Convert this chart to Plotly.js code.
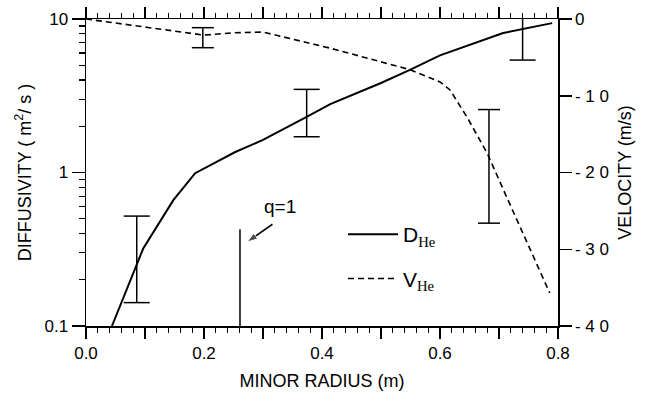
<!DOCTYPE html>
<html>
<head>
<meta charset="utf-8">
<script src="https://cdn.plot.ly/plotly-3.0.1.min.js"></script>
<style>html,body{margin:0;padding:0;background:#fff;}#chart{width:658px;height:400px;}</style>
</head>
<body>
<div id="chart"></div>
<script>
// ---- data ----
const rD   = [0.044, 0.097, 0.148, 0.185, 0.253, 0.300, 0.374, 0.414, 0.500, 0.549, 0.600, 0.707, 0.790];
const dHe  = [0.10, 0.32, 0.66, 0.99, 1.36, 1.63, 2.30, 2.79, 3.83, 4.66, 5.8, 8.1, 9.4];

const rV   = [0.0, 0.097, 0.171, 0.200, 0.250, 0.300, 0.414, 0.549, 0.600, 0.617, 0.646, 0.680, 0.713, 0.786];
const vHe  = [0, -1.0, -1.8, -2.1, -1.8, -1.7, -3.8, -6.6, -8.2, -9.25, -12.8, -17.5, -23.2, -35.7];

// error bars on D (bar ends)
const rDerr  = [0.086, 0.374, 0.740];
const dErrHi = [0.52, 3.48, 13.6];
const dErrLo = [0.142, 1.71, 5.4];
// error bars on V (bar ends)
const rVerr  = [0.198, 0.683];
const vErrHi = [-1.13, -11.8];
const vErrLo = [-3.74, -26.6];

// q=1 marker line, its label and arrow
const qR = [0.261, 0.261];
const qD = [0.1, 0.427];
const qLabel = {r: 0.329, d: 0.587};
const qArrowR = [0.316, 0.273];
const qArrowD = [0.46, 0.352];

const xMidTicks = [0.1, 0.3, 0.5, 0.7];
const y2Ticks = [0, -10, -20, -30, -40];
const y2TickText = ['0', '- 1 0', '- 2 0', '- 3 0', '- 4 0'];

// ---- layout helpers ----
const L = 86, R = 558, T = 19, B = 326;
const px = p => (p - L) / (R - L);
const py = p => (B - p) / (B - T);
const FONT = 'Liberation Sans, Arial, Helvetica, sans-serif';
const K = 'black';
const sub = s => '<sub><span style="font-family:Liberation Serif">' + s + '</span></sub>';

function errorPath(xs, his, los, capHalf) {
  const X = [], Y = [];
  xs.forEach((x, i) => {
    X.push(x - capHalf, x + capHalf, null, x, x, null, x - capHalf, x + capHalf, null);
    Y.push(his[i], his[i], null, his[i], los[i], null, los[i], los[i], null);
  });
  return {X, Y};
}
const capD = 13 / (R - L) * 0.8;
const capV = 11 / (R - L) * 0.8;
const eD = errorPath(rDerr, dErrHi, dErrLo, capD);
const eV = errorPath(rVerr, vErrHi, vErrLo, capV);

const traces = [
  {x: rD, y: dHe, mode: 'lines', line: {color: K, width: 2}, yaxis: 'y',
   name: 'D' + sub('He'), showlegend: true, legendgroup: 'd'},
  {x: rV, y: vHe, mode: 'lines', line: {color: K, width: 1.6, dash: '6px,4px'}, yaxis: 'y2',
   name: 'V' + sub('He'), showlegend: true, legendgroup: 'v'},
  {x: eD.X, y: eD.Y, mode: 'lines', line: {color: K, width: 1.5}, yaxis: 'y', showlegend: false},
  {x: eV.X, y: eV.Y, mode: 'lines', line: {color: K, width: 1.5}, yaxis: 'y2', showlegend: false},
  {x: qR, y: qD, mode: 'lines', line: {color: K, width: 1.5}, yaxis: 'y', showlegend: false},
  {x: [qLabel.r], y: [qLabel.d], mode: 'text', text: ['q=1'], textfont: {size: 19, color: K},
   textposition: 'middle center', yaxis: 'y', showlegend: false},
  {x: qArrowR, y: qArrowD, mode: 'lines+markers', line: {color: K, width: 1.6}, yaxis: 'y', showlegend: false,
   marker: {symbol: 'arrow', size: [0, 11], angleref: 'previous', color: K}},
  {x: [0.4], y: [1], xaxis: 'x2', yaxis: 'y', mode: 'markers', marker: {size: 1, opacity: 0}, showlegend: false}
];

const layout = {
  width: 658, height: 400,
  margin: {l: L, r: 658 - R, t: T, b: 400 - B},
  showlegend: true,
  legend: {x: px(343), y: py(214), xanchor: 'left', yanchor: 'top', bgcolor: 'rgba(0,0,0,0)',
           font: {size: 21, color: K}, tracegroupgap: 14, itemwidth: 50},
  font: {family: FONT, color: K, size: 17},
  xaxis: {
    range: [0, 0.8], showgrid: false, zeroline: false,
    showline: true, linecolor: K, linewidth: 1.5, mirror: 'ticks',
    ticks: 'outside', ticklen: 11, tickwidth: 1.5, tickcolor: K,
    tickmode: 'linear', tick0: 0, dtick: 0.2, tickformat: '.1f',
    minor: {dtick: 0.02, tick0: 0, ticks: 'outside', ticklen: 5, tickwidth: 1.2, tickcolor: K, showgrid: false},
    title: {text: 'MINOR RADIUS (m)', font: {size: 18}, standoff: 12}
  },
  xaxis2: {
    overlaying: 'x', anchor: 'y', range: [0, 0.8], showgrid: false, zeroline: false,
    showline: true, linecolor: K, linewidth: 1.5, mirror: 'ticks',
    ticks: 'outside', ticklen: 11, tickwidth: 1.5, tickcolor: K,
    tickmode: 'array', tickvals: xMidTicks, showticklabels: false
  },
  yaxis: {
    type: 'log', range: [-1, 1], showgrid: false, zeroline: false,
    showline: true, linecolor: K, linewidth: 1.5,
    ticks: 'outside', ticklen: 13, tickwidth: 1.5, tickcolor: K,
    tickmode: 'linear', tick0: 0, dtick: 1,
    minor: {dtick: 'D1', ticks: 'outside', ticklen: 6, tickwidth: 1.2, tickcolor: K, showgrid: false},
    title: {text: 'DIFFUSIVITY ( m<sup>2</sup>/ s )', font: {size: 18}, standoff: 8}
  },
  yaxis2: {
    overlaying: 'y', side: 'right', range: [-40, 0],
    showgrid: false, zeroline: false,
    showline: true, linecolor: K, linewidth: 1.5,
    ticks: 'outside', ticklen: 12, tickwidth: 1.5, tickcolor: K,
    tickmode: 'array', tickvals: y2Ticks, ticktext: y2TickText,
    title: {text: 'VELOCITY (m/s)', font: {size: 18}, standoff: 10}
  }
};

Plotly.newPlot('chart', traces, layout, {staticPlot: true});
</script>
</body>
</html>
